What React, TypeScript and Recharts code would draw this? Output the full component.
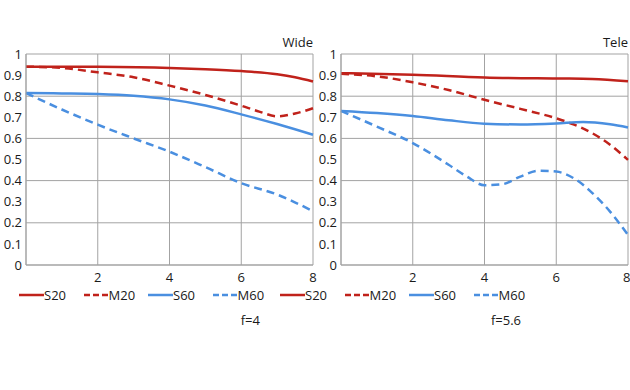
import { LineChart, Line, XAxis, YAxis, CartesianGrid } from "recharts";

const SERIES = ["S20", "M20", "S60", "M60"];
const X_TICKS = [2, 4, 6, 8];
const Y_TICKS = [0, 0.1, 0.2, 0.3, 0.4, 0.5, 0.6, 0.7, 0.8, 0.9, 1];

// Wide, f=4
const wideS20X = [0, 2, 4, 5, 6, 7, 7.5, 8];
const wideS20 = [0.94, 0.939, 0.934, 0.928, 0.919, 0.904, 0.89, 0.87];
const wideM20X = [0, 1, 2, 3, 4, 5, 6, 6.5, 7, 7.5, 8];
const wideM20 = [0.94, 0.934, 0.913, 0.89, 0.85, 0.806, 0.755, 0.727, 0.705, 0.718, 0.743];
const wideS60X = [0, 1, 2, 3, 4, 5, 6, 7, 8];
const wideS60 = [0.815, 0.813, 0.81, 0.802, 0.785, 0.756, 0.714, 0.668, 0.617];
const wideM60X = [0, 1, 2, 3, 4, 5, 6, 7, 8];
const wideM60 = [0.815, 0.737, 0.665, 0.6, 0.537, 0.464, 0.388, 0.334, 0.255];

// Tele, f=5.6
const teleS20X = [0, 2, 4, 6, 7, 8];
const teleS20 = [0.909, 0.902, 0.889, 0.884, 0.882, 0.871];
const teleM20X = [0, 1, 2, 3, 4, 5, 6, 6.5, 7, 7.5, 8];
const teleM20 = [0.906, 0.894, 0.866, 0.829, 0.783, 0.74, 0.695, 0.665, 0.625, 0.57, 0.498];
const teleS60X = [0, 1, 2, 3, 4, 5, 6, 6.75, 7.5, 8];
const teleS60 = [0.73, 0.72, 0.706, 0.686, 0.67, 0.666, 0.671, 0.678, 0.667, 0.652];
const teleM60X = [0, 1, 2, 3, 3.5, 4, 4.5, 5, 5.5, 6, 6.5, 7, 7.5, 8];
const teleM60 = [0.73, 0.656, 0.578, 0.475, 0.42, 0.378, 0.383, 0.419, 0.447, 0.443, 0.41, 0.342, 0.253, 0.142];

const RED = "#c0221b";
const BLUE = "#4a8fe0";
const GRID = "#a3a3a3";
const TEXT = "#1a1a1a";
const FONT = "'Open Sans', 'DejaVu Sans', sans-serif";

const STYLE: Record<string, { color: string; dash?: string }> = {
  S20: { color: RED },
  M20: { color: RED, dash: "8 5" },
  S60: { color: BLUE },
  M60: { color: BLUE, dash: "8 5" },
};

const zip = (xs: number[], ys: number[]) => xs.map((x, i) => ({ x, y: ys[i] }));

const fmtY = (v: number) => (v === 0 || v === 1 ? String(v) : v.toFixed(1));

interface PanelProps {
  left: number;
  width: number;
  marginRight: number;
  title: string;
  lines: { name: string; data: { x: number; y: number }[] }[];
}

function Panel({ left, width, marginRight, title, lines }: PanelProps) {
  const tick = { fontSize: 13, fill: TEXT, fontFamily: FONT };
  return (
    <div style={{ position: "absolute", left, top: 0 }}>
      <LineChart
        width={width}
        height={390}
        margin={{ top: 54, right: marginRight, bottom: 95, left: 0 }}
      >
        <CartesianGrid stroke={GRID} strokeWidth={1} />
        <XAxis
          type="number"
          dataKey="x"
          domain={[0, 8]}
          ticks={X_TICKS}
          tickSize={0}
          tickMargin={8}
          height={30}
          axisLine={{ stroke: GRID }}
          tick={tick}
          allowDuplicatedCategory={false}
        />
        <YAxis
          type="number"
          domain={[0, 1]}
          ticks={Y_TICKS}
          tickFormatter={fmtY}
          tickSize={0}
          tickMargin={4}
          width={26}
          axisLine={{ stroke: GRID }}
          tick={tick}
        />
        {lines.map((l) => (
          <Line
            key={l.name}
            data={l.data}
            dataKey="y"
            type="monotone"
            stroke={STYLE[l.name].color}
            strokeDasharray={STYLE[l.name].dash}
            strokeWidth={2.5}
            dot={false}
            isAnimationActive={false}
          />
        ))}
      </LineChart>
      <div
        style={{
          position: "absolute",
          top: 33,
          right: marginRight,
          fontSize: 13,
          fontFamily: FONT,
          color: TEXT,
        }}
      >
        {title}
      </div>
    </div>
  );
}

function LegendRow({ left, note, noteRight }: { left: number; note: string; noteRight: number }) {
  return (
    <>
      <div style={{ position: "absolute", left, top: 286, display: "flex", fontFamily: FONT, fontSize: 13, color: TEXT }}>
        {SERIES.map((s) => (
          <div key={s} style={{ width: 64.5, display: "flex", alignItems: "center" }}>
            <svg width={25} height={10}>
              <line
                x1={0}
                x2={25}
                y1={5}
                y2={5}
                stroke={STYLE[s].color}
                strokeWidth={2.5}
                strokeDasharray={STYLE[s].dash ? "6 3" : undefined}
              />
            </svg>
            <span>{s}</span>
          </div>
        ))}
      </div>
      <div
        style={{
          position: "absolute",
          left: noteRight - 60,
          width: 60,
          textAlign: "right",
          top: 311,
          fontFamily: FONT,
          fontSize: 13,
          color: TEXT,
        }}
      >
        {note}
      </div>
    </>
  );
}

export default function App() {
  return (
    <div style={{ position: "absolute", left: 0, top: 0, width: 630, height: 390, background: "#fff", overflow: "hidden" }}>
      <Panel
        left={0}
        width={320}
        marginRight={7}
        title="Wide"
        lines={[
          { name: "S20", data: zip(wideS20X, wideS20) },
          { name: "M20", data: zip(wideM20X, wideM20) },
          { name: "S60", data: zip(wideS60X, wideS60) },
          { name: "M60", data: zip(wideM60X, wideM60) },
        ]}
      />
      <Panel
        left={315}
        width={315}
        marginRight={2}
        title="Tele"
        lines={[
          { name: "S20", data: zip(teleS20X, teleS20) },
          { name: "M20", data: zip(teleM20X, teleM20) },
          { name: "S60", data: zip(teleS60X, teleS60) },
          { name: "M60", data: zip(teleM60X, teleM60) },
        ]}
      />
      <LegendRow left={19} note="f=4" noteRight={260} />
      <LegendRow left={280} note="f=5.6" noteRight={521} />
    </div>
  );
}
